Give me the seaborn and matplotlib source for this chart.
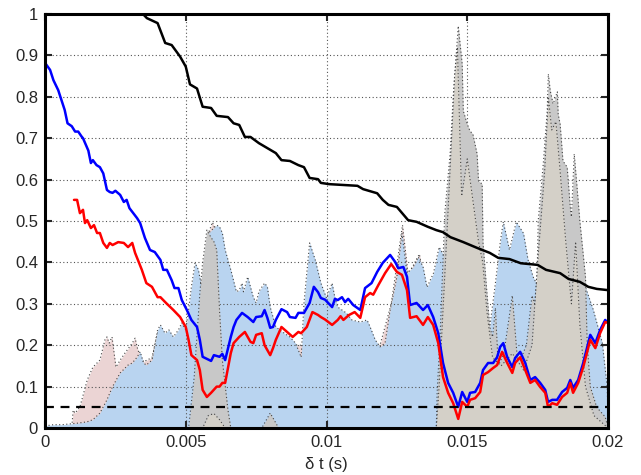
#!/usr/bin/env python3

'''Curves vs. time lag with shaded distributions, MATLAB-like look.'''

import numpy as np
import pandas as pd
import seaborn as sns
import matplotlib
matplotlib.use('Agg')
import matplotlib.pyplot as plt

# ---- data (times in ms, converted to s when plotting) ----
blue_fill_t = [0.0, 0.3, 0.6, 0.9, 1.2, 1.5, 1.7, 1.95, 2.2, 2.4, 2.67, 2.95, 3.1, 3.27, 3.38,
               3.5, 3.6, 3.8, 4.0, 4.1, 4.26, 4.4, 4.56, 4.74, 4.86, 5.0, 5.1, 5.2, 5.33,
               5.45, 5.56, 5.7, 5.8, 5.95, 6.1, 6.2, 6.3, 6.4, 6.6, 6.8, 6.9, 7.0, 7.05,
               7.2, 7.4, 7.5, 7.6, 7.8, 7.9, 8.0, 8.2, 8.5, 8.7, 8.9, 9.1, 9.2, 9.4, 9.6,
               9.8, 10.0, 10.2, 10.3, 10.4, 10.7, 10.9, 11.2, 11.44, 11.55, 11.73, 11.9,
               12.08, 12.26, 12.5, 12.68, 12.86, 13.08, 13.26, 13.43, 13.57, 13.8, 14.0,
               14.3, 14.8, 15.3, 15.6, 15.8, 16.0, 16.17, 16.28, 16.5, 16.74, 17.0, 17.16,
               17.34, 17.6, 18.2, 18.8, 19.2, 19.48, 19.8, 19.97, 20.0]
blue_fill_v = [0.005, 0.008, 0.008, 0.010, 0.012, 0.015, 0.020, 0.036, 0.068, 0.100, 0.133,
               0.152, 0.157, 0.171, 0.184, 0.157, 0.152, 0.164, 0.237, 0.249, 0.229, 0.237,
               0.220, 0.237, 0.254, 0.237, 0.285, 0.341, 0.399, 0.382, 0.341, 0.423, 0.470,
               0.480, 0.490, 0.486, 0.471, 0.430, 0.382, 0.329, 0.333, 0.350, 0.329, 0.365,
               0.316, 0.302, 0.330, 0.350, 0.341, 0.292, 0.244, 0.229, 0.220, 0.205, 0.171,
               0.302, 0.447, 0.406, 0.350, 0.314, 0.350, 0.314, 0.292, 0.278, 0.261, 0.256,
               0.261, 0.244, 0.213, 0.196, 0.205, 0.285, 0.365, 0.470, 0.374, 0.389, 0.413,
               0.389, 0.340, 0.374, 0.437, 0.400, 0.350, 0.300, 0.220, 0.244, 0.350, 0.447,
               0.498, 0.430, 0.498, 0.470, 0.406, 0.365, 0.330, 0.300, 0.330, 0.340, 0.285,
               0.205, 0.100, 0.030]

pink_fill_t = [0.0, 0.95, 1.0, 1.07, 1.24, 1.5, 1.7, 1.95, 2.13, 2.2, 2.28, 2.38, 2.52, 2.67,
               2.84, 3.1, 3.2, 3.3, 3.5, 3.8, 4.0, 4.5, 5.5, 5.8, 5.95, 6.15, 6.5, 11.5,
               11.9, 12.3, 12.7, 12.9, 13.3, 13.6, 14.0, 20.0]
pink_fill_v = [0.0, 0.0, 0.043, 0.036, 0.051, 0.116, 0.147, 0.164, 0.213, 0.220, 0.205,
               0.220, 0.147, 0.164, 0.181, 0.205, 0.217, 0.188, 0.160, 0.170, 0.230, 0.150,
               0.300, 0.470, 0.497, 0.460, 0.200, 0.200, 0.200, 0.300, 0.490, 0.370, 0.420,
               0.300, 0.300, 0.0]

gray_fill_t = [0.0, 5.1, 5.3, 5.5, 5.6, 5.75, 5.9, 6.0, 6.1, 6.2, 6.3, 6.5, 6.6, 7.7, 8.0,
               8.3, 13.9, 13.93, 14.04, 14.2, 14.39, 14.5, 14.68, 14.82, 14.86, 15.0, 15.1,
               15.2, 15.35, 15.4, 15.53, 15.56, 15.7, 15.8, 15.9, 16.0, 16.1, 16.3, 16.6,
               16.8, 17.1, 17.3, 17.4, 17.48, 17.52, 17.7, 17.84, 17.88, 17.95, 18.05, 18.2,
               18.23, 18.3, 18.4, 18.55, 18.66, 18.7, 18.8, 18.9, 19.0, 19.2, 19.26, 19.37,
               19.6, 19.9, 20.0]
gray_fill_v = [0.0, 0.0, 0.123, 0.326, 0.400, 0.478, 0.460, 0.450, 0.430, 0.285, 0.164,
               0.043, 0.0, 0.0, 0.036, 0.0, 0.0, 0.085, 0.229, 0.517, 0.662, 0.800, 0.971,
               0.879, 0.766, 0.734, 0.717, 0.710, 0.662, 0.597, 0.589, 0.447, 0.326, 0.244,
               0.220, 0.290, 0.150, 0.180, 0.320, 0.150, 0.200, 0.320, 0.300, 0.365, 0.500,
               0.638, 0.766, 0.855, 0.814, 0.783, 0.812, 0.758, 0.734, 0.645, 0.630, 0.534,
               0.510, 0.662, 0.582, 0.500, 0.365, 0.205, 0.100, 0.050, 0.027, 0.0]

beige_fill_t = [0.0, 5.6, 5.8, 6.0, 6.2, 6.4, 13.9, 14.0, 14.3, 14.55, 14.65, 14.8, 15.0,
                15.2, 15.4, 15.55, 15.7, 15.9, 16.2, 16.6, 17.0, 17.3, 17.5, 17.75, 17.88,
                18.0, 18.15, 18.3, 18.5, 18.7, 18.85, 19.0, 19.2, 19.5, 20.0]
beige_fill_v = [0.0, 0.0, 0.030, 0.035, 0.020, 0.0, 0.0, 0.100, 0.500, 0.850, 0.920, 0.560,
                0.650, 0.550, 0.450, 0.400, 0.280, 0.170, 0.150, 0.180, 0.140, 0.200, 0.400,
                0.620, 0.800, 0.720, 0.740, 0.620, 0.450, 0.300, 0.450, 0.250, 0.100, 0.030,
                0.0]

black_t = [1.0, 2.0, 3.0, 3.48, 3.62, 4.0, 4.27, 4.5, 4.8, 5.0, 5.15, 5.4, 5.6, 5.9, 6.1,
           6.5, 6.7, 6.9, 7.1, 7.3, 7.6, 7.9, 8.2, 8.4, 8.7, 9.0, 9.2, 9.4, 9.7, 9.8, 10.1,
           11.1, 11.3, 11.8, 12.0, 12.2, 12.5, 12.9, 13.2, 13.6, 13.9, 14.14, 14.4, 14.86,
           15.35, 15.8, 16.1, 16.5, 16.9, 17.5, 17.8, 18.3, 18.6, 19.0, 19.3, 19.6, 20.0]
black_v = [1.10, 1.06, 1.02, 1.0, 0.99, 0.978, 0.93, 0.925, 0.897, 0.873, 0.83, 0.82, 0.776,
           0.773, 0.754, 0.751, 0.736, 0.732, 0.703, 0.703, 0.688, 0.676, 0.664, 0.647,
           0.645, 0.635, 0.630, 0.604, 0.601, 0.592, 0.589, 0.585, 0.577, 0.567, 0.551,
           0.539, 0.534, 0.502, 0.498, 0.486, 0.478, 0.473, 0.461, 0.449, 0.435, 0.423,
           0.411, 0.408, 0.398, 0.394, 0.382, 0.374, 0.360, 0.353, 0.341, 0.336, 0.333]

blue_t = [0.0, 0.18, 0.3, 0.47, 0.7, 0.8, 0.95, 1.07, 1.18, 1.3, 1.35, 1.54, 1.63, 1.7,
          1.83, 1.95, 2.07, 2.2, 2.3, 2.4, 2.5, 2.67, 2.8, 2.9, 3.0, 3.1, 3.27, 3.38, 3.55,
          3.73, 3.9, 4.1, 4.2, 4.33, 4.5, 4.6, 4.74, 4.86, 5.04, 5.2, 5.4, 5.5, 5.6, 5.9,
          6.0, 6.2, 6.3, 6.4, 6.6, 6.7, 6.8, 7.0, 7.2, 7.4, 7.5, 7.7, 7.8, 7.9, 8.0, 8.1,
          8.2, 8.4, 8.6, 8.7, 8.9, 9.0, 9.2, 9.4, 9.55, 9.7, 9.8, 9.95, 10.2, 10.3, 10.4,
          10.55, 10.66, 10.77, 10.95, 11.2, 11.37, 11.6, 11.8, 12.0, 12.26, 12.44, 12.55,
          12.73, 12.86, 12.97, 13.2, 13.43, 13.6, 13.79, 13.97, 14.14, 14.32, 14.5, 14.68,
          14.82, 15.0, 15.1, 15.28, 15.46, 15.56, 15.74, 15.92, 16.06, 16.17, 16.28, 16.42,
          16.6, 16.7, 16.88, 17.06, 17.24, 17.41, 17.59, 17.77, 17.87, 18.02, 18.19, 18.37,
          18.55, 18.66, 18.76, 18.94, 19.12, 19.37, 19.55, 19.72, 19.9, 20.0]
blue_v = [0.882, 0.865, 0.84, 0.816, 0.768, 0.736, 0.729, 0.716, 0.716, 0.704, 0.70, 0.67,
          0.64, 0.647, 0.635, 0.63, 0.615, 0.575, 0.57, 0.568, 0.573, 0.563, 0.546, 0.551,
          0.531, 0.522, 0.507, 0.495, 0.459, 0.43, 0.425, 0.406, 0.382, 0.382, 0.357, 0.338,
          0.338, 0.309, 0.285, 0.261, 0.244, 0.213, 0.172, 0.162, 0.176, 0.172, 0.179, 0.164,
          0.22, 0.244, 0.261, 0.278, 0.268, 0.256, 0.268, 0.27, 0.285, 0.266, 0.242, 0.244,
          0.261, 0.287, 0.28, 0.268, 0.266, 0.278, 0.278, 0.302, 0.341, 0.328, 0.314, 0.310,
          0.292, 0.312, 0.309, 0.316, 0.304, 0.312, 0.297, 0.285, 0.338, 0.35, 0.377, 0.399,
          0.418, 0.401, 0.386, 0.389, 0.365, 0.297, 0.302, 0.285, 0.297, 0.268, 0.229, 0.157,
          0.109, 0.085, 0.051, 0.087, 0.063, 0.085, 0.087, 0.109, 0.14, 0.157, 0.157, 0.171,
          0.196, 0.205, 0.171, 0.147, 0.169, 0.184, 0.157, 0.116, 0.123, 0.109, 0.092, 0.063,
          0.068, 0.068, 0.087, 0.097, 0.116, 0.097, 0.116, 0.157, 0.225, 0.205, 0.237, 0.261,
          0.254]

red_t = [1.03, 1.14, 1.24, 1.35, 1.42, 1.5, 1.63, 1.74, 1.85, 1.95, 2.07, 2.2, 2.3, 2.4,
         2.6, 2.8, 2.95, 3.1, 3.2, 3.3, 3.44, 3.6, 3.8, 4.0, 4.1, 4.3, 4.56, 4.8, 5.0, 5.1,
         5.2, 5.4, 5.5, 5.6, 5.75, 5.9, 6.1, 6.2, 6.3, 6.4, 6.6, 6.7, 6.9, 7.1, 7.3, 7.4,
         7.5, 7.7, 7.8, 8.0, 8.1, 8.2, 8.4, 8.6, 8.8, 9.0, 9.1, 9.3, 9.5, 9.7, 9.8, 9.95,
         10.2, 10.4, 10.5, 10.6, 10.8, 11.0, 11.2, 11.37, 11.55, 11.66, 11.84, 12.08, 12.3,
         12.5, 12.68, 12.86, 12.97, 13.2, 13.43, 13.6, 13.79, 13.97, 14.14, 14.32, 14.5,
         14.68, 14.82, 15.0, 15.1, 15.28, 15.46, 15.56, 15.74, 15.92, 16.06, 16.24, 16.42,
         16.6, 16.7, 16.88, 17.06, 17.24, 17.41, 17.59, 17.77, 17.87, 18.02, 18.19, 18.37,
         18.55, 18.66, 18.76, 18.94, 19.12, 19.37, 19.55, 19.72, 19.9, 20.0]
red_v = [0.551, 0.551, 0.519, 0.527, 0.495, 0.502, 0.483, 0.49, 0.471, 0.471, 0.447, 0.435,
         0.447, 0.442, 0.449, 0.447, 0.437, 0.447, 0.423, 0.406, 0.382, 0.350, 0.341, 0.316,
         0.316, 0.302, 0.285, 0.268, 0.244, 0.213, 0.176, 0.164, 0.14, 0.092, 0.075, 0.085,
         0.10, 0.10, 0.109, 0.109, 0.181, 0.205, 0.22, 0.232, 0.208, 0.205, 0.225, 0.229,
         0.2, 0.176, 0.193, 0.213, 0.244, 0.232, 0.22, 0.232, 0.229, 0.244, 0.28, 0.273,
         0.268, 0.262, 0.249, 0.261, 0.27, 0.261, 0.273, 0.28, 0.266, 0.316, 0.326, 0.322,
         0.345, 0.374, 0.396, 0.377, 0.370, 0.333, 0.266, 0.27, 0.249, 0.268, 0.249, 0.205,
         0.123, 0.085, 0.06, 0.022, 0.063, 0.051, 0.068, 0.072, 0.087, 0.128, 0.135, 0.145,
         0.152, 0.184, 0.157, 0.133, 0.157, 0.171, 0.14, 0.109, 0.116, 0.099, 0.085, 0.051,
         0.06, 0.056, 0.075, 0.085, 0.109, 0.085, 0.109, 0.147, 0.213, 0.193, 0.229, 0.256,
         0.254]

threshold = 0.05

x_ticks = [0, 0.005, 0.01, 0.015, 0.02]
x_tick_labels = ['0', '0.005', '0.01', '0.015', '0.02']
y_ticks = [0, 0.1, 0.2, 0.3, 0.4, 0.5, 0.6, 0.7, 0.8, 0.9, 1.0]
y_tick_labels = ['0', '0.1', '0.2', '0.3', '0.4', '0.5', '0.6', '0.7', '0.8', '0.9', '1']


def ms(t):
    return np.asarray(t) / 1000.0


def main():
    sns.set_style('ticks')
    plt.rcParams['font.family'] = ['Liberation Sans', 'DejaVu Sans']

    fig = plt.figure(figsize=(6.41, 4.75), dpi=100)
    ax = fig.add_axes([45 / 641, 47 / 475, 563 / 641, 414 / 475])

    dots = (0, (1, 2.2))

    # shaded areas, each with a dotted outline
    fills = [
        (pink_fill_t, pink_fill_v, '#EBD4D4', 1),
        (blue_fill_t, blue_fill_v, '#B9D4F0', 2),
        (gray_fill_t, gray_fill_v, '#C8C8C8', 3),
        (beige_fill_t, beige_fill_v, '#D4D0C8', 4),
    ]
    for t, v, col, z in fills:
        ax.fill_between(ms(t), v, 0, color=col, lw=0, zorder=z)
        ax.plot(ms(t), v, ls=dots, color='#444444', lw=0.8, zorder=z)

    # curves
    curves = [
        (black_t, black_v, 'black'),
        (blue_t, blue_v, '#0000FF'),
        (red_t, red_v, '#FF0000'),
    ]
    for t, v, col in curves:
        df = pd.DataFrame({'t': ms(t), 'v': v})
        sns.lineplot(data=df, x='t', y='v', color=col, lw=1.8, ax=ax, zorder=6,
                     estimator=None, sort=False)

    ax.axhline(threshold, color='black', ls=(0, (4, 3)), lw=1.6, zorder=7)

    ax.set_xlim(0, 0.02)
    ax.set_ylim(0, 1)
    ax.set_xticks(x_ticks)
    ax.set_xticklabels(x_tick_labels)
    ax.set_yticks(y_ticks)
    ax.set_yticklabels(y_tick_labels)
    ax.set_xlabel('δ t (s)', fontsize=12, labelpad=5)
    ax.set_ylabel('')

    ax.grid(True, ls=dots, color='#555555', lw=0.8)
    ax.set_axisbelow(False)

    for s in ax.spines.values():
        s.set_linewidth(2.2)
        s.set_color('black')
        s.set_zorder(10)
    ax.tick_params(direction='in', top=True, right=True, length=5, width=1.5,
                   labelsize=12, pad=5)

    fig.savefig('out.png', dpi=100)


if __name__ == '__main__':
    main()
